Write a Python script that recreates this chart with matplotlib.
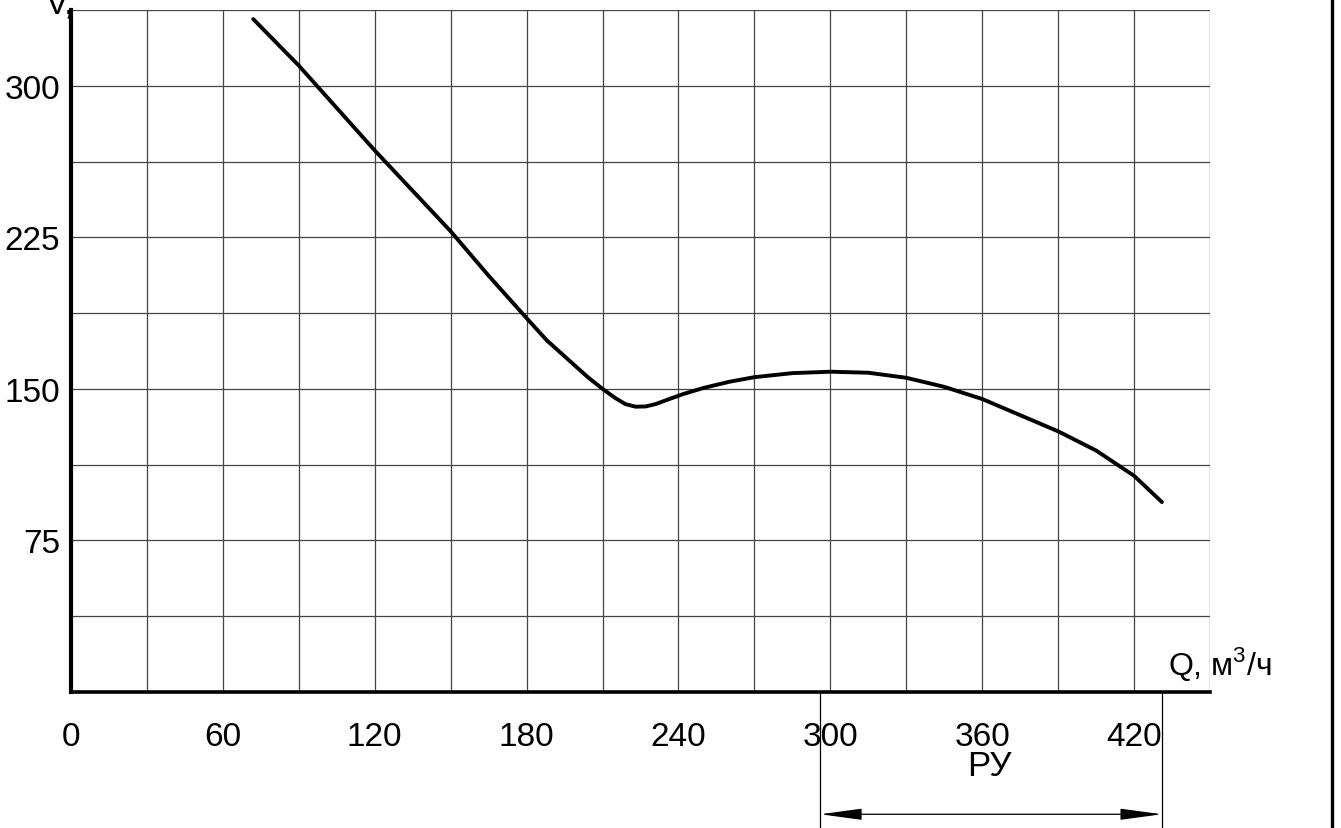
import matplotlib.pyplot as plt
import numpy as np
from matplotlib.lines import Line2D

plt.rcParams['font.family'] = ['Liberation Sans', 'DejaVu Sans']
plt.rcParams['mathtext.fontset'] = 'custom'
plt.rcParams['mathtext.rm'] = 'Liberation Sans'

# кривая
q = [72, 90, 105, 120, 135, 150, 165, 180, 188, 196, 204, 210, 215, 219, 223, 227,
     231, 236, 242, 250, 260, 270, 285, 300, 315, 330, 345, 360, 375, 390, 405, 420, 431]
h = [333, 310, 289, 268, 248, 228, 206, 185, 174, 165, 156, 150, 145.5, 142.5, 141.2, 141.3,
     142.5, 144.8, 147.5, 150.5, 153.5, 155.8, 157.8, 158.5, 158, 155.5, 151, 145, 137, 129,
     119.5, 107, 94]

x_метки = [0, 60, 120, 180, 240, 300, 360, 420]
y_метки = [75, 150, 225, 300]
ру = (296, 431)

fig = plt.figure(figsize=(13.41, 8.29), dpi=100)
ax = fig.add_axes([71 / 1341, 136 / 829, 1139 / 1341, 682 / 829])

ax.plot(q, h, color='black', lw=2.8, solid_capstyle='round', solid_joinstyle='round', zorder=3)

ax.set_xlim(0, 450)
ax.set_ylim(0, 337.5)
ax.set_xticks(x_метки)
ax.set_xticks(np.arange(0, 451, 30), minor=True)
ax.set_yticks(y_метки)
ax.set_yticks(np.arange(0, 338, 37.5), minor=True)
ax.grid(True, which='both', color='#444444', lw=0.9)
ax.tick_params(which='both', length=0, labelsize=24)
ax.tick_params(axis='x', pad=21)
ax.tick_params(axis='y', pad=8)

for s in ['top', 'right']:
    ax.spines[s].set_visible(False)
ax.spines['left'].set_linewidth(3)
ax.spines['bottom'].set_linewidth(2.6)

# рабочий участок РУ
for xv in ру:
    ax.plot([xv, xv], [0, -70], color='black', lw=0.9, clip_on=False)
ax.annotate('', xy=(ру[0], -60.5), xytext=(ру[1], -60.5), xycoords='data',
            arrowprops=dict(arrowstyle='<|-|>,head_length=2.6,head_width=0.35',
                            color='black', lw=0.9, shrinkA=0, shrinkB=0),
            annotation_clip=False)
ax.text(363, -36.5, 'РУ', fontsize=25, ha='center', va='center', clip_on=False)

fig.text(1168 / 1341, 1 - 664 / 829, 'Q, м$^3$/ч', fontsize=23, va='center')
fig.text(46 / 1341, 1 - 14 / 829, 'V,', fontsize=24, va='baseline')
fig.add_artist(Line2D([1332 / 1341, 1332 / 1341], [0, 1], color='black', lw=2.4))

fig.savefig('out.png', dpi=100)
